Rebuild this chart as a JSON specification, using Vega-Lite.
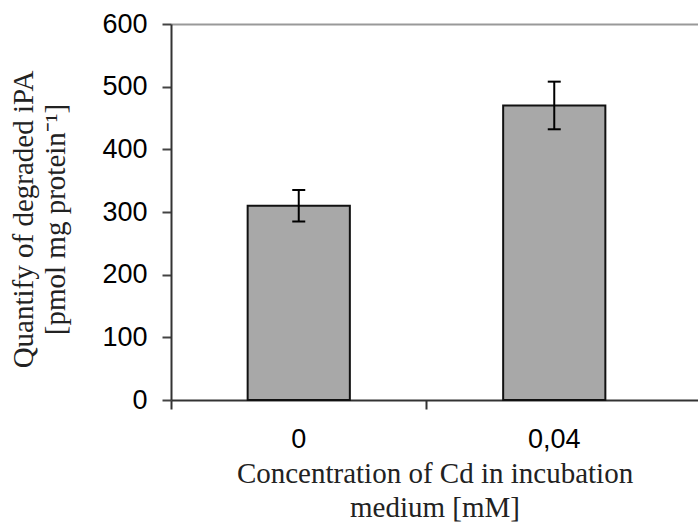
{
  "$schema": "https://vega.github.io/schema/vega-lite/v6.json",
  "width": 527,
  "height": 376,
  "autosize": {"type": "none"},
  "padding": {"left": 171, "top": 24, "right": 0, "bottom": 126},
  "background": "white",
  "data": {"values": [
    {"c": "0", "v": 310, "lo": 285, "hi": 335},
    {"c": "0,04", "v": 470, "lo": 432, "hi": 508}
  ]},
  "config": {"view": {"stroke": null}},
  "resolve": {"axis": {"x": "independent"}},
  "layer": [
    {
      "mark": {"type": "bar", "width": {"band": 0.4}, "fill": "#a8a8a8", "stroke": "#111111", "strokeWidth": 2},
      "encoding": {
        "x": {"field": "c", "type": "nominal", "sort": null,
          "scale": {"paddingInner": 0, "paddingOuter": 0.0313, "align": 0},
          "axis": {"orient": "bottom", "bandPosition": 0, "tickExtra": false, "tickSize": 9, "tickWidth": 2, "tickColor": "#333333",
            "domainColor": "#333333", "domainWidth": 2, "labelAngle": 0, "labelFont": "Liberation Sans", "labelFontSize": 27,
            "labelColor": "#000000", "labelPadding": 17,
            "title": ["Concentration of Cd in incubation", "medium [mM]"], "titleFont": "Liberation Serif", "titleFontSize": 29,
            "titleFontWeight": "normal", "titleColor": "#222222", "titleLineHeight": 34, "titlePadding": 7}},
        "y": {"field": "v", "type": "quantitative",
          "scale": {"domain": [0, 600], "nice": false},
          "axis": {"values": [0, 100, 200, 300, 400, 500, 600], "grid": false, "tickSize": 9, "tickWidth": 2, "tickColor": "#444444",
            "domainColor": "#333333", "domainWidth": 2, "labelFont": "Liberation Sans", "labelFontSize": 27, "labelColor": "#000000",
            "labelPadding": 15,
            "title": ["Quantify of degraded iPA", "[pmol mg protein⁻¹]"], "titleFont": "Liberation Serif", "titleFontSize": 29,
            "titleFontWeight": "normal", "titleColor": "#222222", "titleLineHeight": 32, "titlePadding": 31, "titleY": 195}}
      }
    },
    {
      "layer": [
        {
          "mark": {"type": "rule", "stroke": "#000000", "strokeWidth": 2},
          "encoding": {
            "x": {"field": "c", "type": "nominal", "sort": null,
              "axis": {"orient": "top", "ticks": false, "labels": false, "title": null, "domainColor": "#999999", "domainWidth": 2}},
            "y": {"field": "lo", "type": "quantitative",
              "axis": {"values": [0, 100, 200, 300, 400, 500, 600], "grid": false, "tickSize": 9, "tickWidth": 2, "tickColor": "#444444",
                "domainColor": "#333333", "domainWidth": 2, "labelFont": "Liberation Sans", "labelFontSize": 27, "labelColor": "#000000",
                "labelPadding": 15,
                "title": ["Quantify of degraded iPA", "[pmol mg protein⁻¹]"], "titleFont": "Liberation Serif", "titleFontSize": 29,
                "titleFontWeight": "normal", "titleColor": "#222222", "titleLineHeight": 32, "titlePadding": 31, "titleY": 195}},
            "y2": {"field": "hi"}
          }
        },
        {
          "mark": {"type": "tick", "size": 13, "thickness": 2, "color": "#000000", "opacity": 1},
          "encoding": {
            "x": {"field": "c", "type": "nominal", "sort": null,
              "axis": {"orient": "top", "ticks": false, "labels": false, "title": null, "domainColor": "#999999", "domainWidth": 2}},
            "y": {"field": "hi", "type": "quantitative",
              "axis": {"values": [0, 100, 200, 300, 400, 500, 600], "grid": false, "tickSize": 9, "tickWidth": 2, "tickColor": "#444444",
                "domainColor": "#333333", "domainWidth": 2, "labelFont": "Liberation Sans", "labelFontSize": 27, "labelColor": "#000000",
                "labelPadding": 15,
                "title": ["Quantify of degraded iPA", "[pmol mg protein⁻¹]"], "titleFont": "Liberation Serif", "titleFontSize": 29,
                "titleFontWeight": "normal", "titleColor": "#222222", "titleLineHeight": 32, "titlePadding": 31, "titleY": 195}}
          }
        },
        {
          "mark": {"type": "tick", "size": 13, "thickness": 2, "color": "#000000", "opacity": 1},
          "encoding": {
            "x": {"field": "c", "type": "nominal", "sort": null,
              "axis": {"orient": "top", "ticks": false, "labels": false, "title": null, "domainColor": "#999999", "domainWidth": 2}},
            "y": {"field": "lo", "type": "quantitative",
              "axis": {"values": [0, 100, 200, 300, 400, 500, 600], "grid": false, "tickSize": 9, "tickWidth": 2, "tickColor": "#444444",
                "domainColor": "#333333", "domainWidth": 2, "labelFont": "Liberation Sans", "labelFontSize": 27, "labelColor": "#000000",
                "labelPadding": 15,
                "title": ["Quantify of degraded iPA", "[pmol mg protein⁻¹]"], "titleFont": "Liberation Serif", "titleFontSize": 29,
                "titleFontWeight": "normal", "titleColor": "#222222", "titleLineHeight": 32, "titlePadding": 31, "titleY": 195}}
          }
        }
      ]
    }
  ]
}
